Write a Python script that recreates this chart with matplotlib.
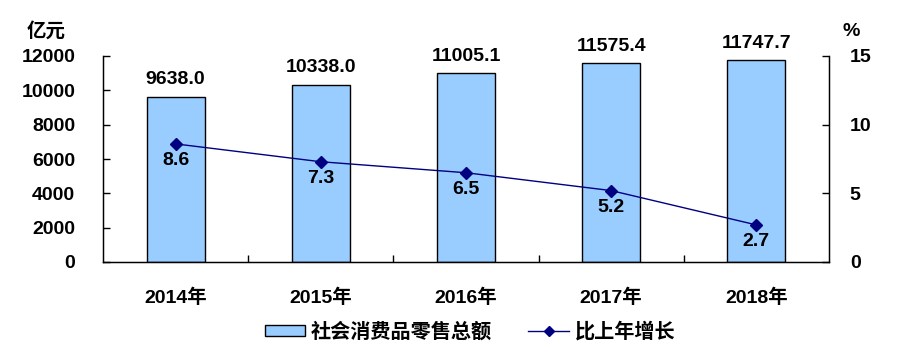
import matplotlib
matplotlib.use("Agg")
import matplotlib.pyplot as plt
import numpy as np
from matplotlib.patches import Patch
from matplotlib.lines import Line2D

years = ["2014年", "2015年", "2016年", "2017年", "2018年"]
sales = [9638.0, 10338.0, 11005.1, 11575.4, 11747.7]
growth = [8.6, 7.3, 6.5, 5.2, 2.7]
left_ticks = [0, 2000, 4000, 6000, 8000, 10000, 12000]
right_ticks = [0, 5, 10, 15]

plt.rcParams['font.family'] = ['Liberation Sans', 'Noto Sans CJK SC', 'DejaVu Sans']
plt.rcParams['font.weight'] = 'bold'
FS = 14

fig = plt.figure(figsize=(9.01, 3.59), dpi=100)
ax = fig.add_axes([103/901, 1-262/359, (829-103)/901, (262-56)/359])
x = np.arange(len(years))
ax.bar(x, sales, width=0.4, color='#99CCFF', edgecolor='black', linewidth=1.0, zorder=2)
ax.set_xlim(-0.5, len(years)-0.5)
ax.set_ylim(0, 12000)
ax.set_yticks(left_ticks)
ax.set_yticklabels([str(t) for t in left_ticks], fontsize=FS, fontweight='bold')
ax.tick_params(axis='y', direction='in', length=5, pad=20, width=1)
ax.set_xticks(x)
ax.set_xticklabels(years, fontsize=FS, fontweight='bold')
ax.tick_params(axis='x', length=0, pad=19)
ax.set_xticks(np.arange(1, len(years)) - 0.5, minor=True)
ax.tick_params(axis='x', which='minor', direction='in', length=5, width=1)
ax.spines['top'].set_visible(False)
for s in ['left', 'bottom', 'right']:
    ax.spines[s].set_linewidth(1.0)
for i, v in enumerate(sales):
    ax.annotate(f"{v:.1f}", (i, v), xytext=(0, 6), textcoords='offset points',
                ha='center', va='bottom', fontsize=FS, fontweight='bold')

ax2 = ax.twinx()
ax2.set_ylim(0, 15)
ax2.set_yticks(right_ticks)
ax2.set_yticklabels([str(t) for t in right_ticks], fontsize=FS, fontweight='bold')
ax2.tick_params(axis='y', direction='in', length=5, pad=15, width=1)
ax2.spines['top'].set_visible(False)
ax2.plot(x, growth, color='#000080', marker='D', markersize=6, linewidth=1.0, zorder=3)
for i, v in enumerate(growth):
    ax2.annotate(f"{v:.1f}", (i, v), xytext=(0, -6), textcoords='offset points',
                 ha='center', va='top', fontsize=FS, fontweight='bold')

fig.text(46/901, 1-31/359, "亿元", fontsize=FS, fontweight='bold', ha='center', va='center',
         family=['Noto Sans CJK SC'])
fig.text(851/901, 1-31/359, "%", fontsize=FS, fontweight='bold', ha='center', va='center')

handles = [Patch(facecolor='#99CCFF', edgecolor='black', linewidth=1.0),
           Line2D([0], [0], color='#000080', marker='D', markersize=5, linewidth=1.0)]
fig.legend(handles, ["社会消费品零售总额", "比上年增长"], loc='center',
           bbox_to_anchor=(470/901, 1-331/359), ncol=2, frameon=False,
           prop={'family': 'Noto Sans CJK SC', 'weight': 'bold', 'size': 14.5},
           handlelength=2.0, handleheight=0.45, columnspacing=1.8, handletextpad=0.3)

fig.savefig("out.png", dpi=100)
